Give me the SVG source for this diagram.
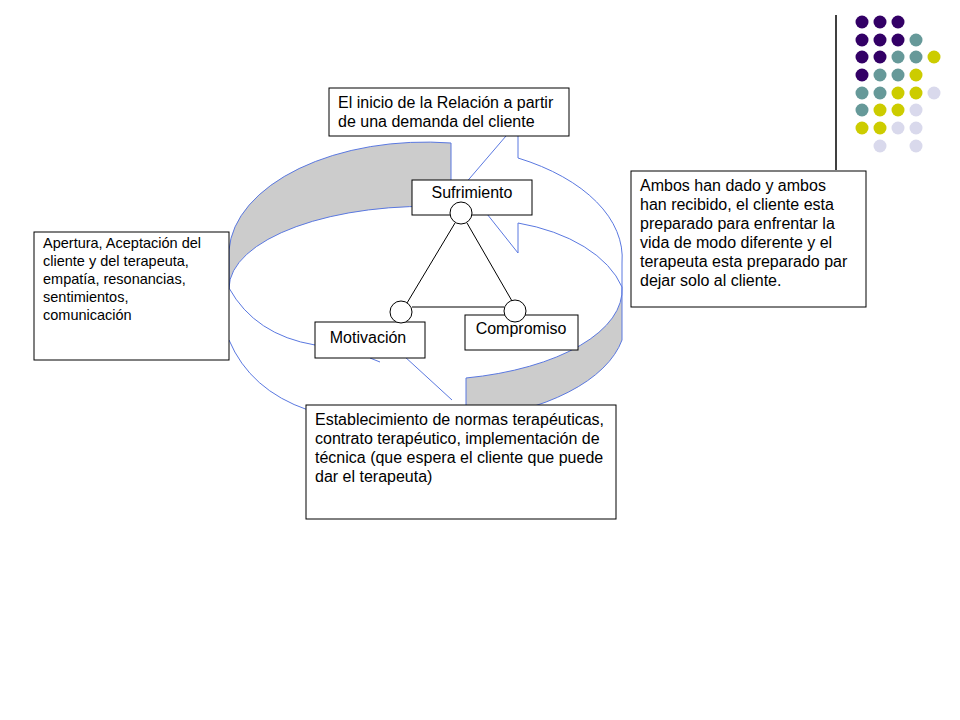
<svg xmlns="http://www.w3.org/2000/svg" width="960" height="720" viewBox="0 0 960 720">
<style>
.box{fill:#fff;stroke:#000;stroke-width:1}
.t{font-family:"Liberation Sans",Arial,sans-serif;font-size:16px;fill:#000}
.s{font-size:14.5px}
.band{fill:#cccccc;stroke:#5a78e0;stroke-width:1}
.edge{fill:none;stroke:#5a78e0;stroke-width:1}
.nc{fill:#fff;stroke:#000;stroke-width:1}
.p{fill:#330066}.q{fill:#669999}.y{fill:#cccc00}.l{fill:#d9d9ec}
</style>
<rect width="960" height="720" fill="#fff"/>
<g id="decor">
<line x1="836" y1="15" x2="836" y2="170" stroke="#000" stroke-width="1.5"/>
<g>
<circle class="p" cx="862" cy="22" r="6.5"/><circle class="p" cx="880" cy="22" r="6.5"/><circle class="p" cx="898" cy="22" r="6.5"/>
<circle class="p" cx="862" cy="40" r="6.5"/><circle class="p" cx="880" cy="40" r="6.5"/><circle class="p" cx="898" cy="40" r="6.5"/><circle class="q" cx="916" cy="40" r="6.5"/>
<circle class="p" cx="862" cy="57" r="6.5"/><circle class="p" cx="880" cy="57" r="6.5"/><circle class="q" cx="898" cy="57" r="6.5"/><circle class="q" cx="916" cy="57" r="6.5"/><circle class="y" cx="934" cy="57" r="6.5"/>
<circle class="p" cx="862" cy="75" r="6.5"/><circle class="q" cx="880" cy="75" r="6.5"/><circle class="q" cx="898" cy="75" r="6.5"/><circle class="y" cx="916" cy="75" r="6.5"/>
<circle class="q" cx="862" cy="93" r="6.5"/><circle class="q" cx="880" cy="93" r="6.5"/><circle class="y" cx="898" cy="93" r="6.5"/><circle class="y" cx="916" cy="93" r="6.5"/><circle class="l" cx="934" cy="93" r="6.5"/>
<circle class="q" cx="862" cy="110" r="6.5"/><circle class="y" cx="880" cy="110" r="6.5"/><circle class="y" cx="898" cy="110" r="6.5"/><circle class="l" cx="916" cy="110" r="6.5"/>
<circle class="y" cx="862" cy="128" r="6.5"/><circle class="y" cx="880" cy="128" r="6.5"/><circle class="l" cx="898" cy="128" r="6.5"/><circle class="l" cx="916" cy="128" r="6.5"/>
<circle class="l" cx="880" cy="146" r="6.5"/><circle class="l" cx="916" cy="146" r="6.5"/>
</g>
</g>
<g id="cycle">
<path class="band" d="M451,143 A197,113 0 0 0 229,250 L229,288 A197,82 0 0 1 451,207 Z"/>
<path class="band" d="M466,378 A197,90 0 0 0 622,287 L622,340 A197,100 0 0 1 466,420 Z"/>
<path class="edge" d="M464,185 L518,122 L518,158 A197,113 0 0 1 622,263 L622,287"/>
<path class="edge" d="M464,185 L518,253 L518,223 A150,90 0 0 1 622,287"/>
<path class="edge" d="M229,288 Q255,335 315,345"/>
<path class="edge" d="M229,340 Q250,390 308,410"/>
<path class="edge" d="M392,345 L452,400"/>
<path class="edge" d="M370,358 L380,362"/>
</g>
<g id="connectors" stroke="#000" stroke-width="1">
<line x1="455" y1="223" x2="407" y2="303"/>
<line x1="467" y1="223" x2="512" y2="301"/>
<line x1="412" y1="307" x2="504" y2="307"/>
</g>
<g id="top-box"><rect class="box" x="329" y="88" width="240" height="48"/>
<text class="t" x="338" y="108">El inicio de la Relación a partir</text>
<text class="t" x="338" y="127">de una demanda del cliente</text></g>
<g id="sufrimiento"><rect class="box" x="412" y="180" width="120" height="35"/>
<text class="t" x="472" y="198" text-anchor="middle">Sufrimiento</text>
<circle class="nc" cx="461" cy="213" r="11"/></g>
<g id="motivacion"><rect class="box" x="315" y="322" width="110" height="36"/>
<text class="t" x="368" y="343" text-anchor="middle">Motivación</text>
<circle class="nc" cx="401" cy="312" r="11"/></g>
<g id="compromiso"><rect class="box" x="465" y="315" width="113" height="35"/>
<text class="t" x="521" y="334" text-anchor="middle">Compromiso</text>
<circle class="nc" cx="515" cy="311" r="11"/></g>
<g id="left-box"><rect class="box" x="34" y="232" width="195" height="128"/>
<text class="t s" x="43" y="248">Apertura, Aceptación del</text>
<text class="t s" x="43" y="266">cliente y del terapeuta,</text>
<text class="t s" x="43" y="284">empatía, resonancias,</text>
<text class="t s" x="43" y="302">sentimientos,</text>
<text class="t s" x="43" y="320">comunicación</text></g>
<g id="right-box"><rect class="box" x="631" y="171" width="235" height="136"/>
<text class="t" x="640" y="191">Ambos han dado y ambos</text>
<text class="t" x="640" y="210">han recibido, el cliente esta</text>
<text class="t" x="640" y="229">preparado para enfrentar la</text>
<text class="t" x="640" y="248">vida de modo diferente y el</text>
<text class="t" x="640" y="267">terapeuta esta preparado par</text>
<text class="t" x="640" y="286">dejar solo al cliente.</text></g>
<g id="bottom-box"><rect class="box" x="306" y="405" width="310" height="114"/>
<text class="t" x="315" y="425">Establecimiento de normas terapéuticas,</text>
<text class="t" x="315" y="444">contrato terapéutico, implementación de</text>
<text class="t" x="315" y="463">técnica (que espera el cliente que puede</text>
<text class="t" x="315" y="482">dar el terapeuta)</text></g>
</svg>
